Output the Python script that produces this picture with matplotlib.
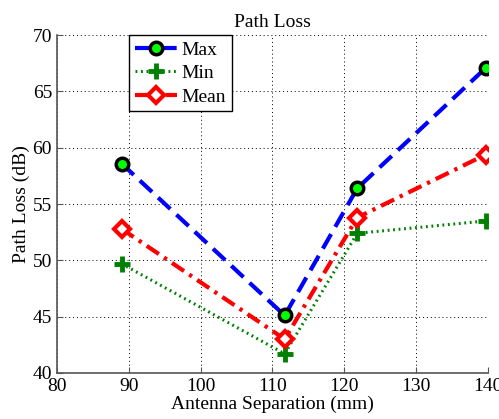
import matplotlib.pyplot as plt

plt.rcParams['font.family'] = ['Liberation Serif', 'DejaVu Serif']

separation = [89, 111.7, 121.8, 139.7]
loss_max = [58.6, 45.1, 56.4, 67.1]
loss_min = [49.7, 41.7, 52.4, 53.5]
loss_mean = [52.8, 43.0, 53.8, 59.4]

fig = plt.figure(figsize=(4.99, 4.19), dpi=100)
ax = fig.add_axes([0.114, 0.110, 0.864, 0.806])

ax.plot(separation, loss_max, '--', color='blue', lw=3, marker='o', ms=9,
        mfc=(0, 1, 0), mec='black', mew=2.5, label='Max', dashes=(4, 2))
ax.plot(separation, loss_min, ':', color=(0, 0.5, 0), lw=2.2, marker='+', ms=11,
        mew=3.5, label='Min', dashes=(0.6, 1.2))
ax.plot(separation, loss_mean, '-.', color='red', lw=3, marker='D', ms=8,
        mfc='white', mec='red', mew=3, label='Mean', dashes=(3.5, 1.5, 0.8, 1.5))

ax.set_xlim(80, 140)
ax.set_ylim(40, 70)
ax.set_xticks(range(80, 141, 10))
ax.set_yticks(range(40, 71, 5))
ax.grid(True, color='black', lw=0.7, dashes=(1, 3))
for s in ['top', 'right']:
    ax.spines[s].set_visible(False)
for s in ['left', 'bottom']:
    ax.spines[s].set_color('#555555')
    ax.spines[s].set_linewidth(1.2)
ax.tick_params(direction='in', labelsize=14, length=4, color='#555555')

ax.set_title('Path Loss', fontsize=14)
ax.set_xlabel('Antenna Separation (mm)', fontsize=14, labelpad=1)
ax.set_ylabel('Path Loss (dB)', fontsize=14, labelpad=2)

leg = ax.legend(loc='upper left', bbox_to_anchor=(0.167, 1.0), fontsize=14,
                fancybox=False, edgecolor='black', framealpha=1,
                handlelength=2.2, handletextpad=0.2, borderpad=0.3,
                labelspacing=0.3, borderaxespad=0)
leg.get_frame().set_linewidth(1.0)

fig.savefig('out.png', dpi=100)
